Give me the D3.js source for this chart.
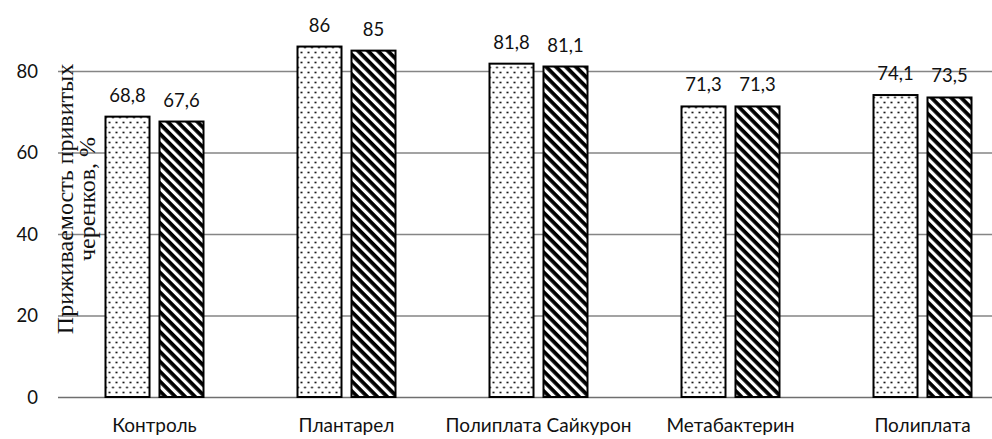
<!DOCTYPE html>
<html lang="ru">
<head>
    <meta charset="UTF-8">
    <script src="https://d3js.org/d3.v7.min.js"></script>
    <style>
        body { margin: 0; background: #fff; }
        svg { display: block; }
        .tick-label { font-family: Lato, sans-serif; font-size: 18.5px; fill: #111; }
        .cat-label { font-family: Lato, sans-serif; font-size: 19px; fill: #111; }
        .value-label { font-family: Lato, sans-serif; font-size: 18.5px; fill: #111; }
        .y-title { font-family: "Liberation Serif", "Times New Roman", serif; font-size: 24px; fill: #111; }
    </style>
</head>
<body>
    <div id="chart"></div>

    <script>
        // данные
        const categories = ["Контроль", "Плантарел", "Полиплата Сайкурон", "Метабактерин", "Полиплата"];
        const series = ["s1", "s2"];
        const values1 = [68.8, 86, 81.8, 71.3, 74.1];
        const values2 = [67.6, 85, 81.1, 71.3, 73.5];
        const labels1 = ["68,8", "86", "81,8", "71,3", "74,1"];
        const labels2 = ["67,6", "85", "81,1", "71,3", "73,5"];
        const yTicks = [0, 20, 40, 60, 80];

        const width = 992, height = 439;

        const svg = d3.select("#chart").append("svg")
            .attr("width", width)
            .attr("height", height);

        const defs = svg.append("defs");

        // точечная заливка
        const dots = defs.append("pattern")
            .attr("id", "dots")
            .attr("patternUnits", "userSpaceOnUse")
            .attr("width", 7)
            .attr("height", 10);
        dots.append("rect").attr("width", 7).attr("height", 10).attr("fill", "#fff");
        dots.append("circle").attr("cx", 2).attr("cy", 2.5).attr("r", 1).attr("fill", "#000");
        dots.append("circle").attr("cx", 5.5).attr("cy", 7.5).attr("r", 1).attr("fill", "#000");

        // штриховка
        const hatch = defs.append("pattern")
            .attr("id", "hatch")
            .attr("patternUnits", "userSpaceOnUse")
            .attr("width", 7)
            .attr("height", 7)
            .attr("patternTransform", "rotate(45)");
        hatch.append("rect").attr("width", 7).attr("height", 7).attr("fill", "#fff");
        hatch.append("rect").attr("width", 7).attr("height", 3.8).attr("fill", "#000");

        const x0 = d3.scaleBand()
            .domain(categories)
            .range([58.5, 1018.5]);

        const x1 = d3.scaleBand()
            .domain(series)
            .range([47, 145])
            .paddingInner(0.185);

        const y = d3.scaleLinear()
            .domain([0, 80])
            .range([397, 71]);

        // сетка
        const grid = svg.append("g")
            .call(d3.axisLeft(y).tickValues(yTicks).tickSize(-(width - 58)).tickFormat(""))
            .attr("transform", "translate(58,0)");
        grid.select(".domain").remove();
        grid.selectAll(".tick line")
            .attr("stroke", d => d === 0 ? "#6f6f6f" : "#858585")
            .attr("stroke-width", 1.6);

        svg.append("g").selectAll("text")
            .data(yTicks)
            .enter().append("text")
            .attr("class", "tick-label")
            .attr("x", 38)
            .attr("y", d => y(d))
            .attr("dy", "0.36em")
            .attr("text-anchor", "end")
            .text(d => d);

        // столбцы
        const rows = categories.map((c, i) => ({
            cat: c,
            bars: [
                { key: "s1", value: values1[i], label: labels1[i], fill: "url(#dots)" },
                { key: "s2", value: values2[i], label: labels2[i], fill: "url(#hatch)" }
            ]
        }));

        const groups = svg.append("g").selectAll("g")
            .data(rows)
            .enter().append("g")
            .attr("transform", d => `translate(${x0(d.cat)},0)`);

        groups.selectAll("rect")
            .data(d => d.bars)
            .enter().append("rect")
            .attr("x", d => x1(d.key))
            .attr("y", d => y(d.value))
            .attr("width", x1.bandwidth())
            .attr("height", d => y(0) - y(d.value))
            .attr("fill", d => d.fill)
            .attr("stroke", "#000")
            .attr("stroke-width", 2);

        groups.selectAll("text")
            .data(d => d.bars)
            .enter().append("text")
            .attr("class", "value-label")
            .attr("x", d => x1(d.key) + x1.bandwidth() / 2)
            .attr("y", d => y(d.value) - 15)
            .attr("text-anchor", "middle")
            .text(d => d.label);

        // подписи категорий
        svg.append("g").selectAll("text")
            .data(categories)
            .enter().append("text")
            .attr("class", "cat-label")
            .attr("x", d => x0(d) + x0.bandwidth() / 2)
            .attr("y", 432)
            .attr("text-anchor", "middle")
            .text(d => d);

        // подпись оси
        const yTitle = svg.append("text")
            .attr("class", "y-title")
            .attr("text-anchor", "middle")
            .attr("transform", "translate(73,199) rotate(-90)");
        yTitle.append("tspan").attr("x", 0).attr("y", 0).text("Приживаемость привитых");
        yTitle.append("tspan").attr("x", 0).attr("y", 22).text("черенков, %");
    </script>
</body>
</html>
